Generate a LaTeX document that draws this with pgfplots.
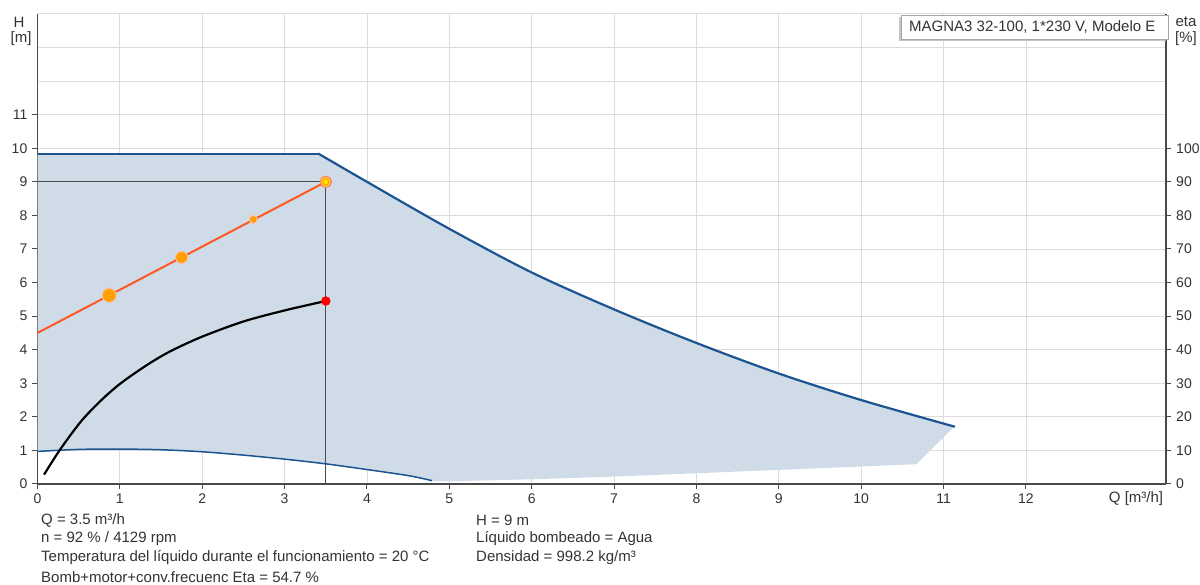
\documentclass[border=0pt]{standalone}
\usepackage{pgfplots}
\pgfplotsset{compat=1.18}
\usepackage{fontspec}
\setmainfont{Liberation Sans}
\definecolor{maxblue}{HTML}{1B5491}
\definecolor{fillblue}{HTML}{CFDCE8}
\definecolor{gridc}{HTML}{DCDCDC}
\definecolor{axc}{HTML}{4A4A4A}
\definecolor{txt}{HTML}{333333}
\definecolor{orl}{HTML}{FF5722}
\definecolor{orm}{HTML}{FFA000}
\begin{document}
\begin{tikzpicture}[x=1pt,y=1pt]
\useasboundingbox (0,0) rectangle (1200,585);
\fontsize{15}{17}\selectfont
\begin{axis}[
  at={(37.5pt,101pt)}, anchor=south west,
  scale only axis, width=1128.5pt, height=470pt,
  xmin=0, xmax=13.7, ymin=0, ymax=14,
  axis x line*=bottom, axis y line*=left,
  axis line style={axc, line width=1.2pt},
  xtick={0,1,...,12}, ytick={0,1,...,11},
  extra y ticks={12,13}, extra y tick labels={},
  extra y tick style={major tick length=0pt, grid=major},
  grid=major, grid style={gridc, line width=0.9pt},
  tick style={axc, line width=1pt}, major tick length=5pt,
  tick align=outside,
  ticklabel style={font=\fontsize{14}{16}\selectfont, text=txt},
  /pgf/number format/assume math mode=true,
  clip=false,
]
% shaded operating range
\addplot[fill=fillblue, draw=none] coordinates {
 (0,9.84) (3.41,9.84) (4.0,9.0) (4.5,8.29) (5,7.6) (5.5,6.93) (6,6.3) (6.5,5.73) (7,5.2) (7.5,4.68) (8,4.2) (8.5,3.73) (9,3.29) (9.5,2.88) (10,2.5) (10.5,2.14) (11.13,1.71)
 (10.67,0.59) (10,0.52) (9,0.42) (8,0.32) (7,0.22) (6,0.14) (5,0.08) (4.79,0.09)
 (4.5,0.25) (4,0.43) (3.5,0.6) (3,0.74) (2.5,0.86) (2,0.96) (1.5,1.02) (1,1.04) (0.5,1.03) (0,0.97)
} -- cycle;
% top frame line
\draw[gridc, line width=1pt] (axis cs:0,14) -- (axis cs:13.7,14);
% max curve
\addplot[maxblue, line width=2.2pt] coordinates {(0,9.84) (3.41,9.84)};
\addplot[maxblue, line width=2.2pt, smooth, tension=0.5, line cap=round] coordinates {
 (3.41,9.84) (4.0,9.0) (5,7.6) (6,6.3) (7,5.2) (8,4.2) (9,3.29) (10,2.5) (11.13,1.71)
};
% min curve
\addplot[maxblue, line width=1.5pt, smooth] coordinates {
 (0,0.97) (0.5,1.03) (1,1.04) (1.5,1.02) (2,0.96) (2.5,0.86) (3,0.74) (3.5,0.6) (4,0.43) (4.5,0.25) (4.79,0.1)
};
% operating point lines
\addplot[axc, line width=1pt] coordinates {(0,9) (3.5,9) (3.5,0)};
% efficiency curve
\addplot[black, line width=2.2pt, smooth] coordinates {
 (0.08,0.28) (0.27,1.01) (0.52,1.84) (0.75,2.44) (1,2.98) (1.32,3.53) (1.61,3.95) (2,4.39) (2.5,4.84) (3,5.17) (3.5,5.45)
};
\addplot[only marks, mark=*, mark size=4.5pt, color=red] coordinates {(3.5,5.45)};
% control curve
\addplot[orl, line width=2pt] coordinates {(0,4.5) (3.5,9)};
\addplot[only marks, mark=*, mark size=7pt, draw=orl!40, fill=orm, line width=1pt] coordinates {(0.87,5.62)};
\addplot[only marks, mark=*, mark size=6pt, draw=orl!40, fill=orm, line width=1pt] coordinates {(1.75,6.75)};
\addplot[only marks, mark=*, mark size=4pt, draw=orl!40, fill=orm, line width=1pt] coordinates {(2.62,7.88)};
\addplot[only marks, mark=*, mark size=5.5pt, draw=orl!70, fill=yellow!90!orange, line width=1.5pt] coordinates {(3.5,9)};
\addplot[only marks, mark=o, mark size=3pt, draw=orm, line width=1pt] coordinates {(3.5,9)};
\end{axis}
\begin{axis}[
  at={(37.5pt,101pt)}, anchor=south west,
  scale only axis, width=1128.5pt, height=470pt,
  xmin=0, xmax=13.7, ymin=0, ymax=140,
  axis x line=none, axis y line*=right,
  axis line style={axc, line width=1.2pt},
  ytick={0,10,...,100},
  tick style={axc, line width=1pt}, major tick length=5pt,
  tick align=outside,
  ticklabel style={font=\fontsize{14}{16}\selectfont, text=txt},
  /pgf/number format/assume math mode=true,
]
\end{axis}
% axis labels
\node[text=txt] at (19,563) {H};
\node[text=txt] at (21,546) {[m]};
\node[text=txt] at (1186,563) {eta};
\node[text=txt] at (1186,546) {[\%]};
\node[text=txt] at (1136,86) {Q [m³/h]};
% model box
\fill[gray!45] (899,544) rectangle (1166,568);
\draw[gray!70, fill=white] (901,546) rectangle (1168,570);
\node[text=txt, anchor=west] at (904,558) {MAGNA3 32-100, 1*230 V, Modelo E};
% info text
\node[text=txt, anchor=west] at (36,65) {Q = 3.5 m³/h};
\node[text=txt, anchor=west] at (36,46) {n = 92 \% / 4129 rpm};
\node[text=txt, anchor=west] at (36,27) {Temperatura del líquido durante el funcionamiento = 20 °C};
\node[text=txt, anchor=west] at (36,8) {Bomb+motor+conv.frecuenc Eta = 54.7 \%};
\node[text=txt, anchor=west] at (471,65) {H = 9 m};
\node[text=txt, anchor=west] at (471,46) {Líquido bombeado = Agua};
\node[text=txt, anchor=west] at (471,27) {Densidad = 998.2 kg/m³};
\end{tikzpicture}
\end{document}
